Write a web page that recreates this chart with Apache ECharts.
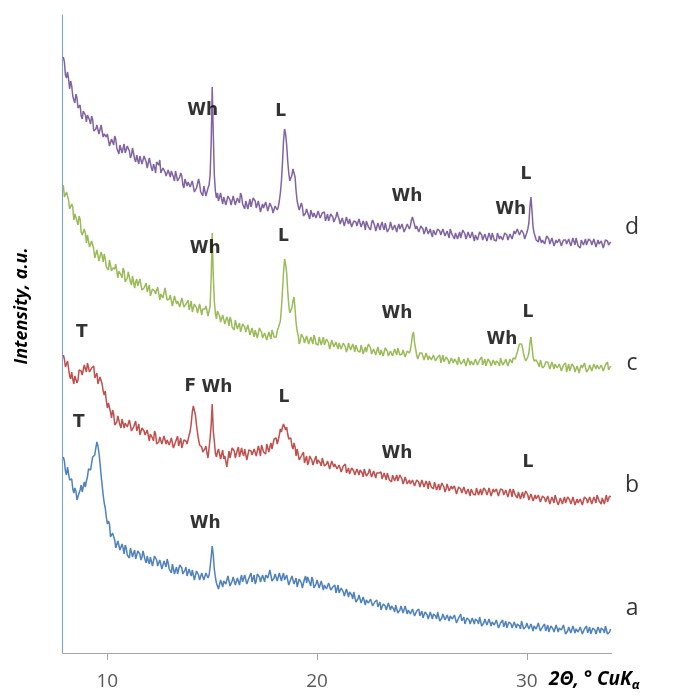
<!DOCTYPE html>
<html><head><meta charset="utf-8">
<script src="https://cdn.jsdelivr.net/npm/echarts@6/dist/echarts.min.js"></script>
<style>html,body{margin:0;padding:0;background:#fff}#c{width:675px;height:696px}</style>
</head><body><div id="c"></div>
<script>
// 2-theta sampling of the curves (degrees): 7.90, 7.95, ... 34.00
const thetaStart = 7.9, thetaStep = 0.05;

// d (purple)
const curveD = [
596,591,578,575,581,574,564,572,567,557,553,550,559,555,545,547,548,537,534,542,540,538,
531,538,540,533,529,537,533,522,521,524,528,527,519,518,528,526,516,519,519,516,
519,517,507,506,514,512,508,517,514,505,502,499,508,507,500,505,509,500,499,507,
505,502,495,498,505,506,494,491,498,493,489,497,499,489,491,497,495,491,485,487,
495,494,485,482,489,486,480,491,489,488,493,480,478,485,485,481,477,476,483,485,
476,482,484,476,472,482,480,472,474,476,480,477,468,465,474,475,467,471,473,466,
464,472,471,461,460,465,467,474,469,461,459,457,467,465,457,461,465,468,478,510,
566,520,478,462,455,460,452,451,460,454,449,456,457,448,450,457,456,453,448,450,
457,457,448,447,455,454,450,460,457,449,447,444,452,451,444,449,454,446,446,455,
454,452,445,447,452,453,441,440,449,445,443,451,452,442,444,450,448,445,440,441,
447,449,443,446,452,460,472,490,512,524,519,508,492,480,472,470,478,484,486,476,
462,452,447,443,442,450,446,437,438,440,444,444,437,434,443,444,436,440,441,435,
435,442,442,435,436,440,442,441,432,434,439,432,433,439,440,436,431,431,436,441,
437,434,429,431,435,435,427,428,436,432,429,434,435,426,425,432,433,431,427,429,
434,433,426,425,432,429,423,432,432,426,424,423,430,433,432,427,422,423,430,431,
423,428,431,426,423,430,429,421,421,425,431,429,423,422,428,428,421,426,429,424,
422,429,429,421,421,426,429,431,424,427,433,436,434,428,424,427,429,421,419,427,
426,424,419,422,426,427,419,418,424,419,416,423,425,418,418,424,423,422,418,419,
424,424,417,416,422,420,415,424,424,418,416,414,420,419,414,418,421,415,415,423,
422,419,414,417,421,422,415,414,421,416,412,418,420,413,414,421,421,418,413,414,
419,419,412,412,420,418,413,420,418,413,411,412,420,419,414,417,419,413,412,420,
420,418,413,415,419,421,414,414,422,419,418,424,426,418,418,423,422,419,414,415,
420,424,430,446,456,442,426,420,418,413,412,411,417,416,410,413,415,409,409,417,
416,414,409,411,415,415,407,406,413,410,408,414,415,407,406,413,414,413,409,410,
414,414,407,407,415,413,408,415,413,407,405,405,413,413,408,411,414,408,407,414,
413,412,408,410,414,414,406,406,413,409,407,412,412,405,406,413,413,412,408,408,
411];

// c (green)
const curveC = [
468,456,455,461,461,453,444,443,449,446,433,439,440,432,428,437,434,421,418,420,424,420,
410,418,419,406,405,412,410,404,395,396,403,402,392,392,401,397,391,399,394,386,
384,383,393,391,382,385,387,384,389,387,375,382,384,378,375,385,382,371,370,375,
381,379,371,368,377,375,365,371,374,367,365,374,374,363,361,365,367,370,361,362,
368,357,357,364,365,362,359,359,366,365,353,359,361,355,353,365,364,353,352,354,
358,356,347,346,357,357,349,352,353,346,345,355,356,346,345,349,351,353,343,345,
352,341,342,349,349,345,340,341,349,349,338,344,345,344,347,348,337,337,347,375,
420,378,352,340,334,342,341,337,331,332,338,338,329,328,336,333,327,336,333,326,
325,323,333,332,324,327,330,321,320,329,327,326,321,323,328,329,318,317,325,320,
316,323,324,315,317,325,324,321,315,315,320,321,313,312,321,319,314,323,320,316,
318,316,322,325,324,332,345,362,380,394,389,380,362,348,340,338,345,352,356,344,
330,322,318,309,312,319,318,315,310,311,317,317,309,308,316,314,309,318,315,309,
308,308,316,314,308,312,316,308,306,314,313,310,304,308,313,314,306,305,311,307,
304,310,312,304,304,310,309,306,301,304,310,310,303,302,309,306,301,308,307,302,
301,301,308,306,299,303,306,301,301,309,308,305,299,301,304,305,298,298,306,301,
298,303,304,297,298,305,305,302,297,298,302,303,297,297,304,302,298,305,303,298,
297,299,303,301,296,298,302,303,300,303,310,318,321,310,304,298,294,296,300,302,
300,299,293,293,300,300,293,297,298,293,291,298,299,292,292,296,298,298,290,292,
298,291,291,296,296,293,289,289,295,297,290,294,296,291,288,296,295,289,290,291,
294,293,287,287,295,295,288,292,293,288,287,294,294,288,289,293,295,296,288,289,
294,287,288,294,295,291,287,287,293,295,288,292,294,290,287,295,295,288,289,291,
294,292,287,289,294,293,290,295,297,294,295,301,305,309,310,309,305,299,295,292,
293,296,300,310,316,306,296,292,290,293,294,289,286,293,292,285,285,287,291,289,
291,290,284,284,291,291,284,289,291,285,283,289,289,282,283,288,290,290,281,283,
289,282,283,289,290,286,281,281,287,288,280,285,288,285,283,290,288,281,281,284,
288,287,282,282,289,290,284,288,290,284,282,288,288,282,283,288,290,291,283,283,
287];

// b (red)
const curveB = [
298,294,286,287,292,291,277,274,281,274,269,277,278,270,273,283,284,282,278,280,288,289,
281,290,290,281,281,285,287,287,275,275,280,269,270,276,275,269,262,258,262,252,
245,250,250,241,235,243,239,228,227,231,237,236,228,225,234,234,225,230,232,226,
225,233,233,222,221,226,229,232,222,223,229,218,218,225,225,222,218,217,223,223,
212,219,221,215,212,222,219,209,208,211,216,216,209,207,217,217,209,213,214,208,
207,215,214,205,205,211,214,217,207,208,215,205,206,213,214,212,209,210,218,222,
230,241,247,246,238,228,220,213,208,210,206,201,199,204,207,200,195,196,215,228,
249,222,212,200,196,201,204,205,194,196,203,194,197,195,186,194,202,195,195,205,
204,202,195,197,203,206,196,196,205,200,197,204,204,193,194,203,203,202,198,198,
204,205,197,197,207,203,197,208,207,201,201,199,209,208,201,206,210,204,206,214,
212,215,209,213,218,224,221,226,229,231,223,226,219,214,212,215,207,204,210,206,
197,204,203,193,193,197,199,201,190,191,197,188,191,197,197,193,188,187,194,197,
189,193,195,190,187,195,195,187,187,189,192,190,184,184,192,192,186,189,190,184,
182,188,188,181,182,187,189,189,180,181,185,179,180,185,186,182,178,178,184,185,
178,183,185,180,176,184,183,177,178,180,184,182,176,175,182,182,175,180,182,180,
182,181,174,173,180,178,173,180,178,173,172,171,178,177,172,175,178,172,171,178,
176,174,169,172,176,177,169,167,173,169,167,173,174,167,167,173,173,171,166,168,
173,173,166,165,172,169,164,172,171,166,165,164,171,169,163,166,169,163,163,170,
169,166,161,164,169,170,162,161,167,164,162,167,167,159,159,166,166,164,160,161,
166,166,159,158,164,162,157,164,163,159,158,158,165,164,158,161,164,158,157,165,
164,162,158,161,165,165,157,157,164,161,159,164,164,157,157,164,165,163,158,159,
163,163,156,156,164,161,156,164,164,158,156,155,161,160,154,158,161,155,154,162,
161,158,153,155,159,160,152,151,158,154,152,158,159,151,150,157,157,155,151,152,
157,156,149,149,156,154,150,158,157,151,148,148,155,154,149,153,156,150,149,156,
155,153,149,152,156,156,148,147,154,150,148,154,155,148,149,156,156,154,150,151,
156,156,149,149,156,154,150,158,157,152,150,149,155,154,149,154,158,151,150,157,
156];

// a (blue)
const curveA = [
196,192,182,178,186,184,173,175,174,164,160,165,162,153,154,160,163,168,161,163,171,166,
172,176,184,186,183,190,196,195,198,205,211,207,200,190,178,168,158,150,145,136,
129,132,129,116,114,120,118,113,105,106,112,112,103,101,109,105,99,108,105,98,
97,95,105,104,96,100,103,94,93,102,101,99,93,96,102,104,93,90,97,92,
89,96,97,87,89,97,96,93,87,87,93,93,84,83,92,90,86,94,90,84,
83,80,89,87,79,83,86,79,79,88,87,85,79,79,83,86,77,76,84,80,
77,83,83,73,75,82,81,78,73,74,80,81,73,72,80,79,75,78,86,96,
107,98,84,76,70,67,64,65,73,75,66,72,74,69,67,77,75,67,69,72,
76,75,68,66,75,76,68,74,78,71,70,78,77,69,70,75,77,80,71,72,
78,69,72,79,80,76,71,71,78,80,71,78,80,75,73,83,81,72,72,75,
79,79,72,70,80,80,72,77,80,73,71,78,77,68,69,74,77,79,69,69,
75,66,68,74,74,70,65,66,74,77,70,76,77,70,67,76,73,65,66,69,
73,71,65,65,72,71,63,68,70,64,62,70,71,63,62,66,68,68,60,62,
68,60,60,65,65,61,57,58,64,64,56,61,63,58,54,61,59,51,51,54,
58,56,50,49,56,55,48,53,55,50,48,54,54,47,47,51,52,53,46,47,
51,43,43,49,50,47,43,44,50,51,43,47,48,44,41,48,47,40,41,43,
47,46,40,40,47,46,39,43,45,39,37,44,44,37,38,42,43,44,37,38,
42,35,36,41,41,38,34,35,41,42,34,39,41,37,34,41,39,32,33,35,
39,38,33,32,38,38,32,37,39,34,32,38,37,30,30,35,37,39,32,32,
36,29,30,35,36,33,29,29,35,36,29,34,36,32,29,36,34,27,28,30,
34,33,28,27,34,34,27,31,33,28,27,33,32,25,25,30,32,33,26,27,
32,25,25,31,32,29,25,25,31,32,25,29,31,27,24,32,31,24,24,26,
30,29,24,23,29,29,22,27,29,24,23,30,30,22,22,26,28,29,22,23,
28,21,22,27,27,24,21,22,28,29,21,25,27,23,21,28,26,19,19,22,
26,25,20,20,27,27,20,24,26,21,20,26,26,19,19,24,26,27,20,21,
26,19,20,25,26,23,19,20,26,27,20,25,27,23,20,27,26,19,20,21,
24];

const xTicks = [10, 20, 30];

// phase labels: [text, 2theta, intensity]
const peakLabels = [
  ['Wh', 14.54, 542], ['L', 18.26, 541], ['Wh', 24.28, 456], ['L', 29.96, 478], ['Wh', 29.23, 443],
  ['Wh', 14.67, 404], ['L', 18.39, 416], ['Wh', 23.81, 339], ['L', 30.05, 340], ['Wh', 28.82, 313],
  ['T', 8.78, 320], ['F', 13.96, 266], ['Wh', 15.22, 265], ['L', 18.42, 255], ['Wh', 23.81, 199], ['L', 30.05, 190],
  ['T', 8.64, 230], ['Wh', 14.67, 129]
];

// curve names: [text, 2theta, intensity]
const curveNames = [['d', 35.02, 426], ['c', 35.02, 290], ['b', 35.02, 168], ['a', 35.02, 45]];

function toPairs(vals) {
  return vals.map((v, i) => [+(thetaStart + i * thetaStep).toFixed(2), v]);
}
function lineSeries(vals, color) {
  return {
    type: 'line', data: toPairs(vals), symbol: 'none', showSymbol: false, silent: true,
    lineStyle: { color: color, width: 1.5 }, z: 2
  };
}
function textSeries(items, labelStyle) {
  return {
    type: 'scatter', data: items.map(([t, x, y]) => [x, y, t]), symbolSize: 1, clip: false, silent: true,
    itemStyle: { color: 'rgba(0,0,0,0)' }, z: 5,
    label: Object.assign({ show: true, position: 'inside', formatter: p => p.value[2] }, labelStyle)
  };
}

const chart = echarts.init(document.getElementById('c'), null, { renderer: 'canvas' });
chart.setOption({
  animation: false,
  grid: { left: 62.7, right: 63.3, top: 15, bottom: 43, containLabel: false, outerBoundsMode: 'none' },
  xAxis: {
    type: 'value', min: 7.87, max: 34.05,
    axisLine: { show: true, onZero: false, lineStyle: { color: '#a6a6a6', width: 1 } },
    axisTick: { show: true, customValues: xTicks, length: 7, lineStyle: { color: '#a6a6a6' } },
    axisLabel: { customValues: xTicks, color: '#595959', fontSize: 19, fontFamily: 'Open Sans', margin: 19 },
    splitLine: { show: false }
  },
  yAxis: {
    type: 'value', min: 0, max: 638,
    axisLine: { show: true, onZero: false, lineStyle: { color: '#6fa0dc', width: 1 } },
    axisTick: { show: false }, axisLabel: { show: false }, splitLine: { show: false }
  },
  series: [
    lineSeries(curveA, '#4f81bd'),
    lineSeries(curveB, '#c0504d'),
    lineSeries(curveC, '#9bbb59'),
    lineSeries(curveD, '#8064a2'),
    textSeries(peakLabels, { fontFamily: 'DejaVu Sans', fontWeight: 'bold', fontSize: 17, color: '#000' }),
    textSeries(curveNames, { fontFamily: 'Open Sans', fontSize: 23, color: '#000' })
  ],
  graphic: [
    {
      type: 'text', x: 22, y: 306, rotation: Math.PI / 2, silent: true,
      style: {
        text: 'Intensity, a.u.', fontSize: 18, fontWeight: 'bold', fontStyle: 'italic', fontFamily: 'Open Sans',
        fill: '#000', align: 'center', verticalAlign: 'middle', textAlign: 'center', textVerticalAlign: 'middle'
      }
    },
    {
      type: 'text', x: 549, y: 680, silent: true,
      style: {
        text: '{a|2Θ, ° CuK}{b|α}', fill: '#000', align: 'left', verticalAlign: 'middle',
        textAlign: 'left', textVerticalAlign: 'middle',
        rich: {
          a: { fontSize: 19, fontWeight: 'bold', fontStyle: 'italic', fontFamily: 'Open Sans', fill: '#000', color: '#000', lineHeight: 24 },
          b: { fontSize: 13, fontWeight: 'bold', fontStyle: 'italic', fontFamily: 'Open Sans', fill: '#000', color: '#000', lineHeight: 24, padding: [10, 0, 0, 0] }
        }
      }
    }
  ]
});
</script>
</body></html>
